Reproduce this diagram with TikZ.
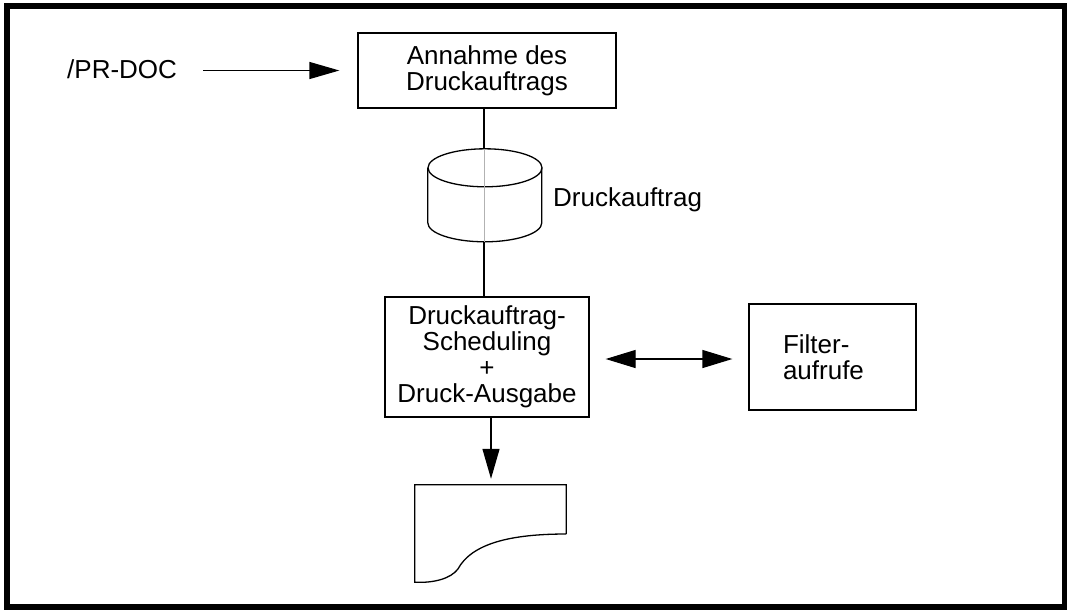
\documentclass[tikz,border=0pt]{standalone}
\usepackage{fontspec}
\setmainfont{Liberation Sans}
\usetikzlibrary{arrows.meta}
\begin{document}
\begin{tikzpicture}[x=1pt,y=-1pt,
  lw/.style={line width=1.3pt},
  boxnode/.style={draw,lw,inner sep=0pt,font=\fontsize{26}{26}\selectfont,align=center},
  lbl/.style={inner sep=0pt,font=\fontsize{26}{26}\selectfont},
  arr/.style={lw,-{Triangle[length=30pt,width=17pt]}},
  darr/.style={lw,{Triangle[length=30pt,width=18pt]}-{Triangle[length=30pt,width=18pt]}}
]
\useasboundingbox (0,0) rectangle (1067,611);
\draw[line width=6pt] (7,6) rectangle (1065,606.5);

% nodes
\node[lbl,anchor=base west] (pr) at (67,78) {/PR-DOC};
\node[boxnode,minimum width=258pt,minimum height=75pt] (ann) at (487,70.5) {Annahme des\\Druckauftrags};
\node[inner sep=0pt,minimum width=114pt,minimum height=93pt] (db) at (485,195.5) {};
\node[lbl,anchor=base west] (dblbl) at (553,206) {Druckauftrag};
\node[boxnode,minimum width=204pt,minimum height=120pt] (sched) at (487,357) {Druckauftrag-\\Scheduling\\+\\Druck-Ausgabe};
\node[boxnode,minimum width=167pt,minimum height=106pt,text width=99pt,align=left] (filt) at (832.5,357) {Filter-\\aufrufe};
\node[inner sep=0pt,minimum width=151pt,minimum height=97pt] (doc) at (490.5,533.5) {};

% cylinder
\draw[lw] (db.north west) ++(0,19) coordinate (ctl)
  (db.north) ++(0,19) coordinate (ctc)
  (ctc) ellipse [x radius=57pt,y radius=19pt];
\draw[lw] (db.north west) ++(0,19) -- ++(0,55)
  arc[start angle=180,end angle=360,x radius=57pt,y radius=19pt] -- ++(0,-55);

% document shape
\draw[lw] (doc.east) ++(0,0.5) coordinate (dr)
  (dr) -- (doc.north east) -- (doc.north west) -- (doc.south west)
  .. controls ++(20,1) and ++(-7,9) .. ++(43,-13)
  .. controls ++(14,-26) and ++(-55,0) .. (dr);

% connectors
\coordinate (vx) at (484,0);
\draw[arr,shorten >=18pt] (203,78 |- ann.west) -- (ann.west);
\draw[lw] (ann.south -| vx) -- (db.north -| vx);
\draw[line width=1pt,gray!60] (db.north -| vx) -- (db.south -| vx);
\draw[lw] (db.south -| vx) -- (sched.north -| vx);
\draw[darr,shorten >=16pt,shorten <=16pt] (sched.east |- 0,359) -- (filt.west |- 0,359);
\coordinate (ax) at (491,0);
\draw[arr,shorten >=6pt] (sched.south -| ax) -- (doc.north -| ax);
\end{tikzpicture}
\end{document}
